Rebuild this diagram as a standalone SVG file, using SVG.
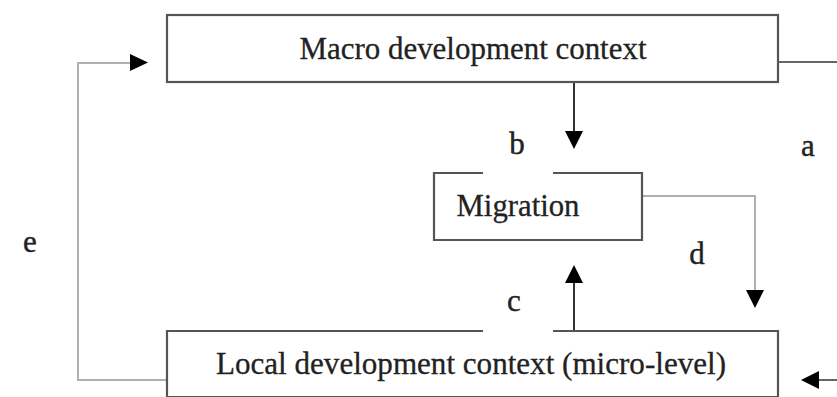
<svg xmlns="http://www.w3.org/2000/svg" width="837" height="397" viewBox="0 0 837 397">
<style>
.box{fill:#fff;stroke:#555;stroke-width:2.2}
.t{font-family:"Liberation Serif","Times New Roman",serif;font-size:32px;fill:#222;stroke:#222;stroke-width:0.3}
.lbl{font-family:"Liberation Serif","Times New Roman",serif;font-size:31px;fill:#222;stroke:#222;stroke-width:0.4;text-anchor:middle}
.dark{fill:none;stroke:#333;stroke-width:2}
.mid{fill:none;stroke:#666;stroke-width:2}
.light{fill:none;stroke:#b0b0b0;stroke-width:2}
.ah{fill:#000}
</style>
<rect width="837" height="397" fill="#fff"/>
<g id="connectors">
  <path class="dark" d="M574,82 V134"/>
  <polygon class="ah" points="565,131 583,131 574,149"/>
  <path class="dark" d="M574,331 V280"/>
  <polygon class="ah" points="565,283 583,283 574,265"/>
  <path class="light" d="M643,196 H755 V293"/>
  <polygon class="ah" points="746,290 764,290 755,308"/>
  <path class="light" d="M167,380 H78 V63 H133"/>
  <polygon class="ah" points="130,54 130,71 148,62.5"/>
  <path class="mid" d="M778,62 H837"/>
  <path class="mid" d="M837,380 H816"/>
  <polygon class="ah" points="819,371 819,389 801,380"/>
</g>
<g id="macro">
  <rect class="box" x="167" y="15" width="611" height="67"/>
  <text class="t" x="473" y="59" text-anchor="middle" textLength="347" lengthAdjust="spacingAndGlyphs">Macro development context</text>
</g>
<g id="migration">
  <path class="box" d="M483,173 H434 V240 H642 V173 H553"/>
  <text class="t" x="518" y="216" text-anchor="middle" textLength="123" lengthAdjust="spacingAndGlyphs">Migration</text>
</g>
<g id="local">
  <path class="box" d="M483,331 H167 V397 M167,397 H778 V331 H553" />
  <text class="t" x="471" y="374" text-anchor="middle" textLength="510" lengthAdjust="spacingAndGlyphs">Local development context (micro-level)</text>
</g>
<g id="labels">
  <text class="lbl" x="517" y="154">b</text>
  <text class="lbl" x="808" y="156">a</text>
  <text class="lbl" x="30" y="252">e</text>
  <text class="lbl" x="697" y="264">d</text>
  <text class="lbl" x="514" y="311">c</text>
</g>
</svg>
